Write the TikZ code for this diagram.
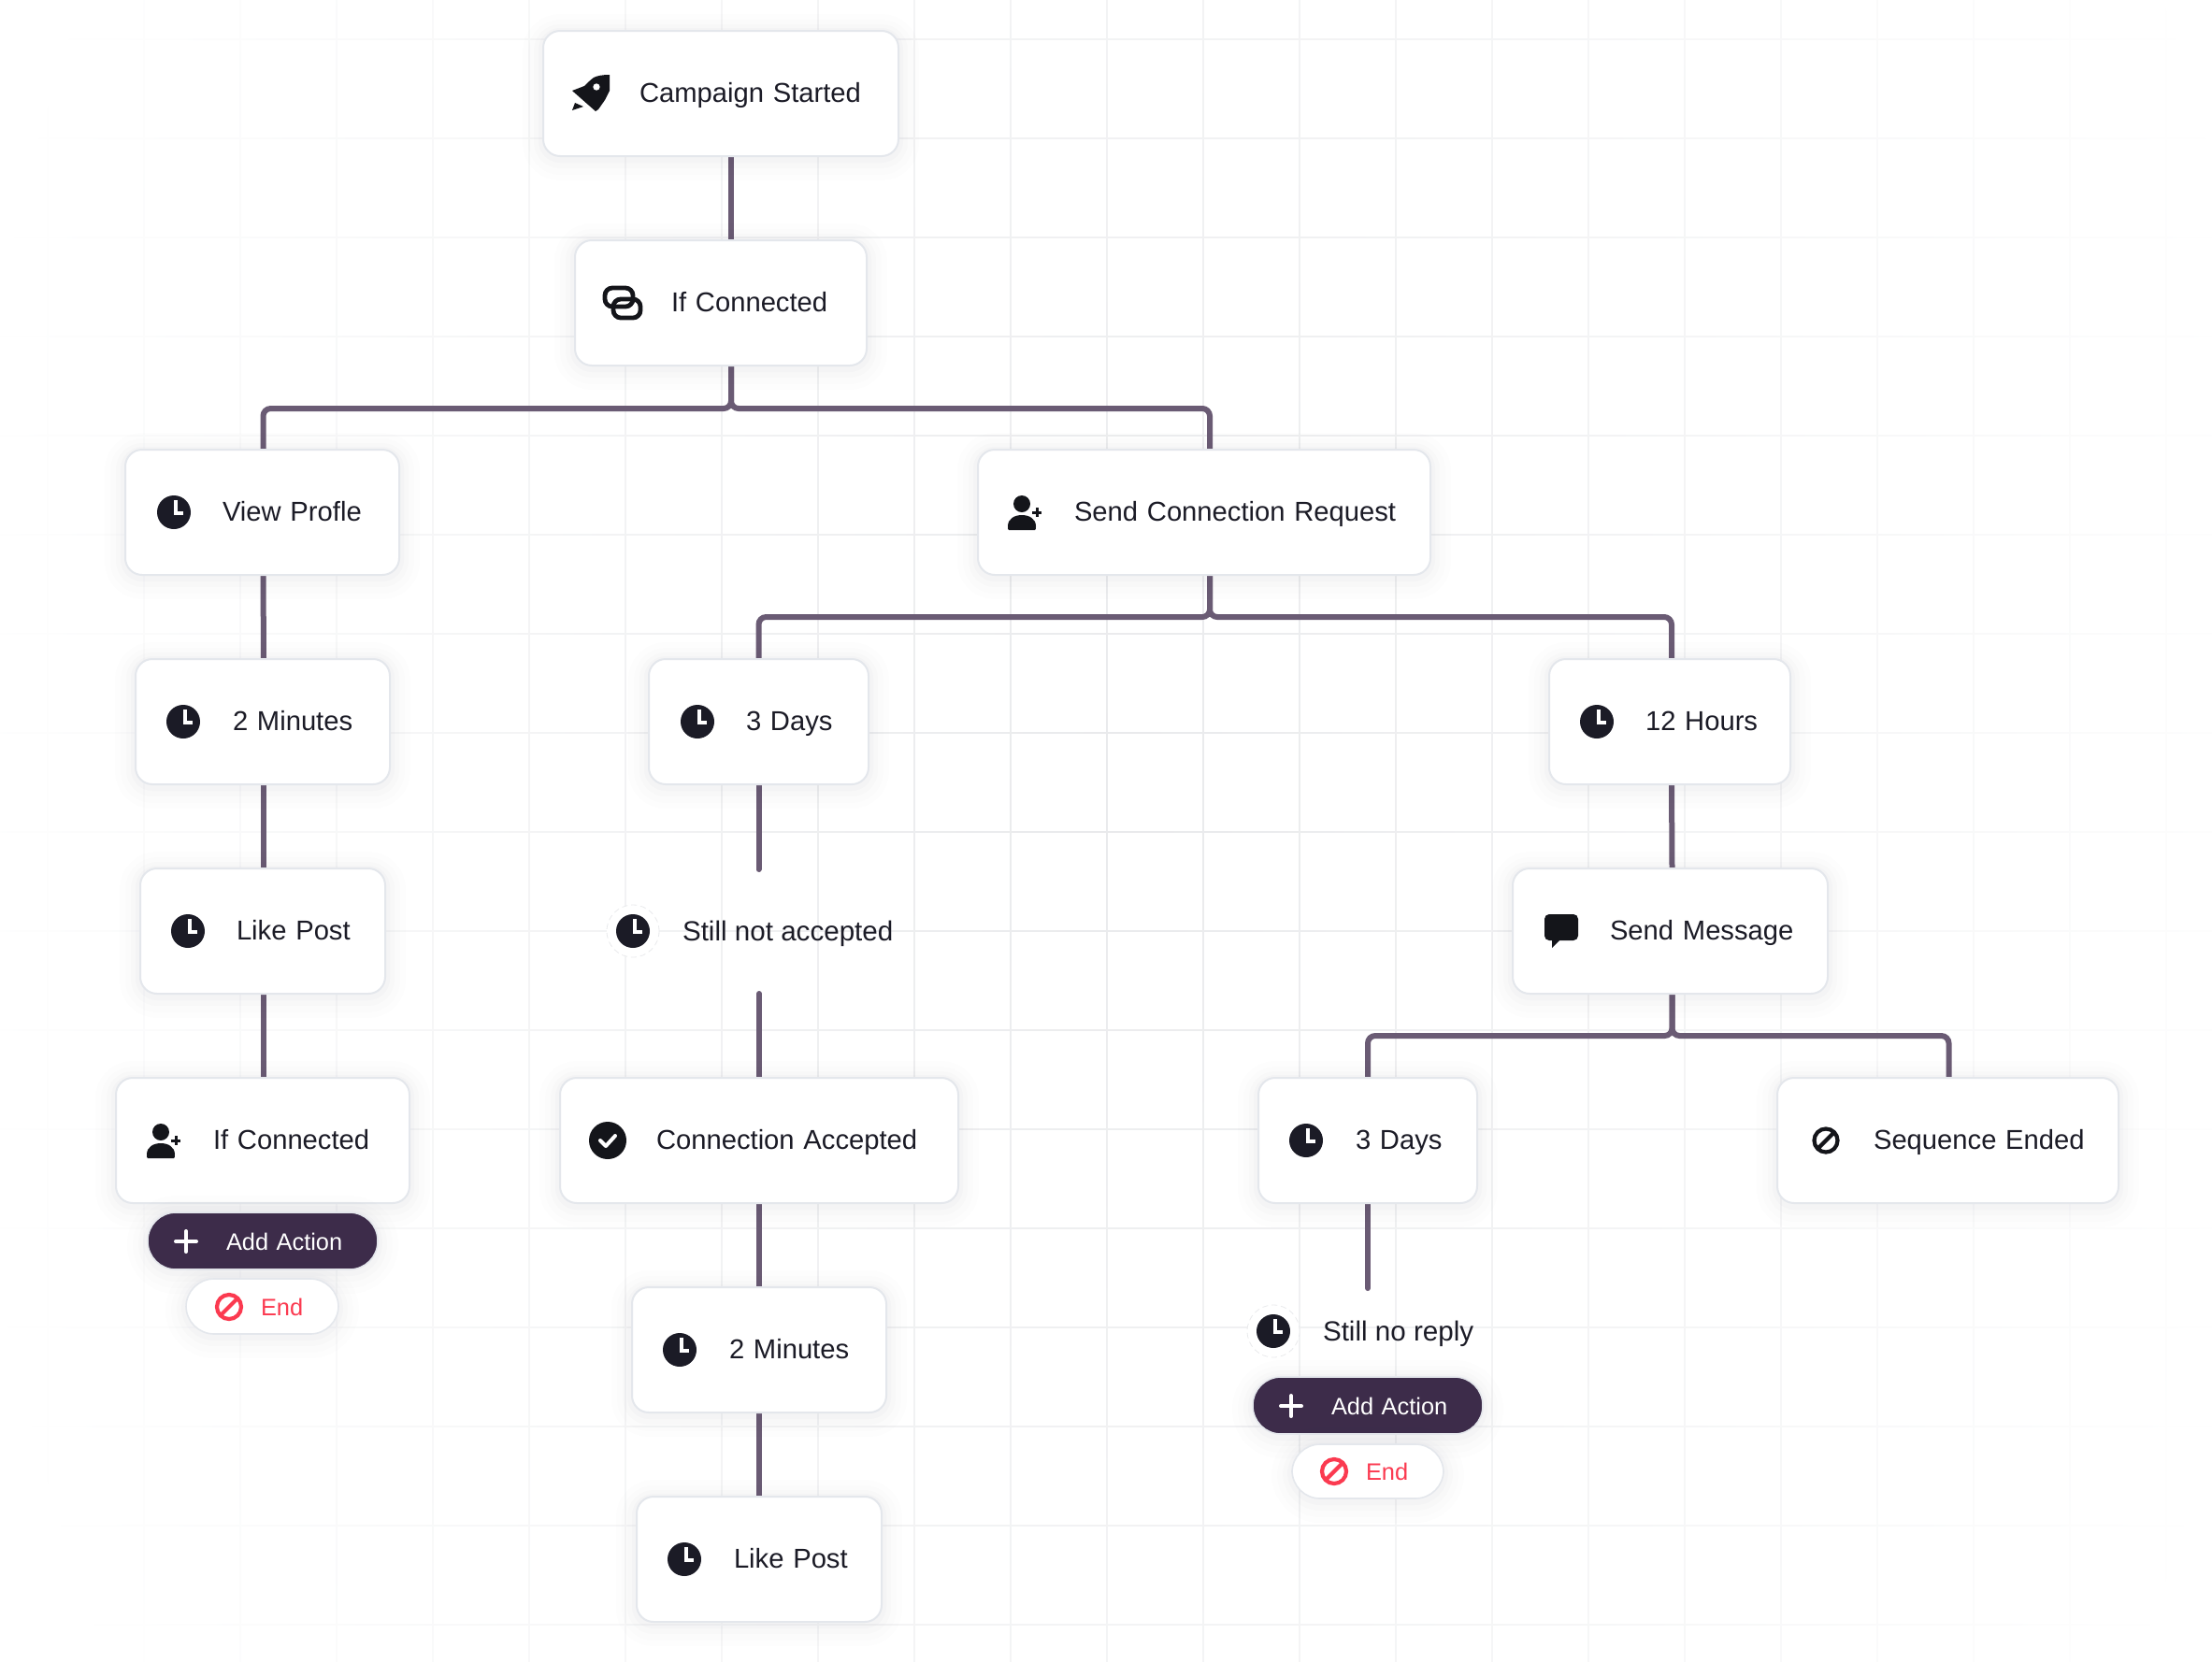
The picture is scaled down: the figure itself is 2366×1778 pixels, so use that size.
\documentclass[tikz,border=0pt]{standalone}
\usepackage{fontspec}
\setmainfont{Liberation Sans}
\usetikzlibrary{fadings}
\pgfdeclarelayer{bg}
\pgfsetlayers{bg,main}
\definecolor{ink}{HTML}{1B1B26}
\definecolor{iconc}{HTML}{14151A}
\definecolor{edge}{HTML}{E4E7EC}
\definecolor{link}{HTML}{6A5B74}
\definecolor{plum}{HTML}{3D2C4A}
\definecolor{alert}{HTML}{FB3A50}
\definecolor{gridc}{HTML}{E9EAEC}
\definecolor{shade}{HTML}{303050}
\tikzfading[name=holefade,inner color=transparent!100,outer color=transparent!0]
\newcommand{\mystrut}{\rule[-4pt]{0pt}{17.6pt}}
\tikzset{
  x=0.5pt,y=-0.5pt,
  softshadow/.style={
    preaction={draw=shade,draw opacity=.007,line width=22pt,transform canvas={yshift=-2pt}},
    preaction={draw=shade,draw opacity=.008,line width=16pt,transform canvas={yshift=-2pt}},
    preaction={draw=shade,draw opacity=.010,line width=10pt,transform canvas={yshift=-1.5pt}},
    preaction={draw=shade,draw opacity=.014,line width=5pt,transform canvas={yshift=-1pt}}},
  card/.style={softshadow,draw=edge,fill=white,line width=1pt,rounded corners=9pt,inner sep=0pt,outer sep=0pt,
    anchor=north west,minimum height=67pt,align=left,text=ink,font=\fontsize{14.6pt}{18pt}\selectfont},
  pilldark/.style={softshadow,draw=edge,fill=plum,line width=.8pt,rounded corners=15pt,inner sep=0pt,outer sep=0pt,
    anchor=north west,align=left,text=white,font=\fontsize{12.7pt}{16pt}\selectfont},
  pilllight/.style={softshadow,draw=edge,fill=white,line width=.8pt,rounded corners=15pt,inner sep=0pt,outer sep=0pt,
    anchor=north west,align=left,text=alert,font=\fontsize{12.7pt}{16pt}\selectfont},
  plainlabel/.style={inner sep=0pt,outer sep=0pt,anchor=base west,text=ink,font=\fontsize{14.8pt}{18pt}\selectfont},
  conn/.style={draw=link,line width=3pt,rounded corners=4pt},
  connend/.style={draw=link,line width=3pt,line cap=round},
  clockic/.pic={\fill[ink] (0,0) circle[radius=18];
    \draw[white,line width=1.8pt] (2,-13) -- (2,1) -- (10,1);},
  ringclock/.pic={\fill[white] (0,0) circle[radius=28];
    \draw[gridc,line width=.4pt,densely dashed] (0,0) circle[radius=28];
    \fill[ink] (0,0) circle[radius=18];
    \draw[white,line width=1.8pt] (2,-13) -- (2,1) -- (10,1);},
  personic/.pic={\fill[iconc] (0,-9) circle[radius=9];
    \fill[iconc] (-14,19) -- (14,19) .. controls (15,19) and (15,17) .. (15,15) .. controls (15,7) and (8,3) .. (0,3) .. controls (-8,3) and (-15,7) .. (-15,15) .. controls (-15,17) and (-15,19) .. (-14,19) -- cycle;
    \draw[iconc,line width=1.5pt] (11,0) -- (21,0) (16,-5) -- (16,5);},
  rocketic/.pic={\fill[iconc,even odd rule] (20,-20) .. controls (12,-20) and (7,-19) .. (3,-17) .. controls (-1,-14) and (-4,-11) .. (-7,-8) -- (-20,-3) -- (5,19) -- (8,17) -- (15,7) -- (20,-3) -- cycle (6,-7) circle[radius=3.8];
    \fill[iconc] (-20,18) -- (-17,10) -- (-8,14) -- cycle;},
  chainic/.pic={\draw[iconc,line width=2.4pt,rounded corners=4pt] (-19,-16) rectangle (11,4);
    \draw[iconc,line width=2.4pt,rounded corners=4pt] (-10,-4) rectangle (19,16);},
  bubbleic/.pic={\fill[iconc,rounded corners=2.5pt] (-18,-18) rectangle (18,10);
    \fill[iconc] (-10,8) -- (-10,18) -- (0,8) -- cycle;},
  checkic/.pic={\fill[iconc] (0,0) circle[radius=20];
    \draw[white,line width=2pt,line cap=round,line join=round] (-8,0) -- (-2,6) -- (8,-5);},
  banic/.pic={\draw[iconc,line width=2.1pt] (0,0) circle[radius=12.5] (-9,9) -- (9,-9);},
  redban/.pic={\draw[alert,line width=2.1pt] (0,0) circle[radius=13] (-9.2,9.2) -- (9.2,-9.2);},
  plusic/.pic={\draw[white,line width=2pt,line cap=round] (-11,0) -- (11,0) (0,-11) -- (0,11);}
}
% name, x1, x2, top, text x, text
\newcommand{\cardn}[6]{%
  \pgfmathsetmacro{\cardW}{(#3-#2)*0.5}\pgfmathsetmacro{\cardO}{(#5-#2)*0.5}%
  \node[card,minimum width=\cardW pt,text width=\cardW pt] (#1) at (#2,#4) {\hspace*{\cardO pt}\mystrut #6};}
% style, name, x1, x2, top, bottom, text x, text
\newcommand{\pilln}[8]{%
  \pgfmathsetmacro{\cardW}{(#4-#3)*0.5}\pgfmathsetmacro{\cardO}{(#7-#3)*0.5}\pgfmathsetmacro{\cardH}{(#6-#5)*0.5}%
  \node[#1,minimum width=\cardW pt,text width=\cardW pt,minimum height=\cardH pt] (#2) at (#3,#5) {\hspace*{\cardO pt}\mystrut #8};}
\begin{document}
\begin{tikzpicture}
\useasboundingbox (0,0) rectangle (2366,1778);
\begin{pgfonlayer}{bg}
\fill[white] (0,0) rectangle (2366,1778);
% background grid
\foreach \k in {0,...,22} {\draw[gridc,line width=1pt] ({51+103*\k},0) -- ({51+103*\k},1778);}
\foreach \k in {0,...,16} {\draw[gridc,line width=1pt] (0,{42+106*\k}) -- (2366,{42+106*\k});}
\fill[white,path fading=holefade] (-50,-1000) rectangle (2450,2700);
\end{pgfonlayer}
% cards
\cardn{start}{581}{961}{33}{684}{Campaign Started}
\cardn{ifa}{615}{927}{257}{718}{If Connected}
\cardn{view}{134}{427}{481}{238}{View Profle}
\cardn{scr}{1046}{1530}{481}{1149}{Send Connection Request}
\cardn{twoa}{145}{417}{705}{249}{2 Minutes}
\cardn{three}{694}{929}{705}{798}{3 Days}
\cardn{twelve}{1657}{1915}{705}{1760}{12 Hours}
\cardn{likea}{150}{412}{929}{253}{Like Post}
\cardn{msg}{1618}{1955}{929}{1722}{Send Message}
\cardn{ifb}{124}{438}{1153}{228}{If Connected}
\cardn{acc}{599}{1025}{1153}{702}{Connection Accepted}
\cardn{threeb}{1346}{1580}{1153}{1450}{3 Days}
\cardn{seq}{1901}{2266}{1153}{2004}{Sequence Ended}
\cardn{twob}{676}{948}{1377}{780}{2 Minutes}
\cardn{likeb}{681}{943}{1601}{785}{Like Post}
% pills
\pilln{pilldark}{adda}{158}{404}{1297}{1358}{242}{Add Action}
\pilln{pilllight}{enda}{199}{362}{1368}{1427}{279}{End}
\pilln{pilldark}{addb}{1340}{1586}{1473}{1534}{1424}{Add Action}
\pilln{pilllight}{endb}{1382}{1544}{1545}{1603}{1461}{End}
% waiting labels
\pic at (677,996) {ringclock};
\node[plainlabel] (stilla) at (730,1006) {Still not accepted};
\pic at (1362,1424) {ringclock};
\node[plainlabel] (stillb) at (1415,1434) {Still no reply};
% free connector ends
\coordinate (gapa) at (812,930);
\coordinate (gapb) at (812,1063);
\coordinate (gapc) at (1464,1378);
% connectors
\begin{pgfonlayer}{bg}
\draw[conn] ([xshift=5.5pt]start.south) -- ([xshift=5.5pt]ifa.north);
\draw[conn] ([xshift=5.5pt]ifa.south) -- ++(0,46) -| ([xshift=.5pt]view.north);
\draw[conn] ([xshift=5.5pt]ifa.south) -- ++(0,46) -| ([xshift=3pt]scr.north);
\draw[conn] ([xshift=.5pt]view.south) -- ([xshift=.5pt]twoa.north);
\draw[conn] ([xshift=.5pt]twoa.south) -- ([xshift=.5pt]likea.north);
\draw[conn] ([xshift=.5pt]likea.south) -- ([xshift=.5pt]ifb.north);
\draw[conn] ([xshift=3pt]scr.south) -- ++(0,45) -| (three.north);
\draw[conn] ([xshift=3pt]scr.south) -- ++(0,45) -| ([xshift=1pt]twelve.north);
\draw[connend] (three.south) -- (three.south |- gapa);
\draw[connend] (gapb) -- (gapb |- acc.north);
\draw[conn] (acc.south) -- (twob.north);
\draw[conn] (twob.south) -- (likeb.north);
\draw[conn] ([xshift=1pt]twelve.south) -- ([xshift=1pt]msg.north);
\draw[conn] ([xshift=1pt]msg.south) -- ++(0,45) -| (threeb.north);
\draw[conn] ([xshift=1pt]msg.south) -- ++(0,45) -| ([xshift=.5pt]seq.north);
\draw[connend] (threeb.south) -- (threeb.south |- gapc);
\end{pgfonlayer}
% icons
\pic at (632,100) {rocketic};
\pic at (666,324) {chainic};
\pic at (186,548) {clockic};
\pic at (1093,548) {personic};
\pic at (196,772) {clockic};
\pic at (746,772) {clockic};
\pic at (1708,772) {clockic};
\pic at (201,996) {clockic};
\pic at (1670,996) {bubbleic};
\pic at (172,1220) {personic};
\pic at (650,1220) {checkic};
\pic at (1397,1220) {clockic};
\pic at (1953,1220) {banic};
\pic at (727,1444) {clockic};
\pic at (732,1668) {clockic};
\pic at (199,1328) {plusic};
\pic at (245,1398) {redban};
\pic at (1381,1504) {plusic};
\pic at (1427,1574) {redban};
\end{tikzpicture}
\end{document}
